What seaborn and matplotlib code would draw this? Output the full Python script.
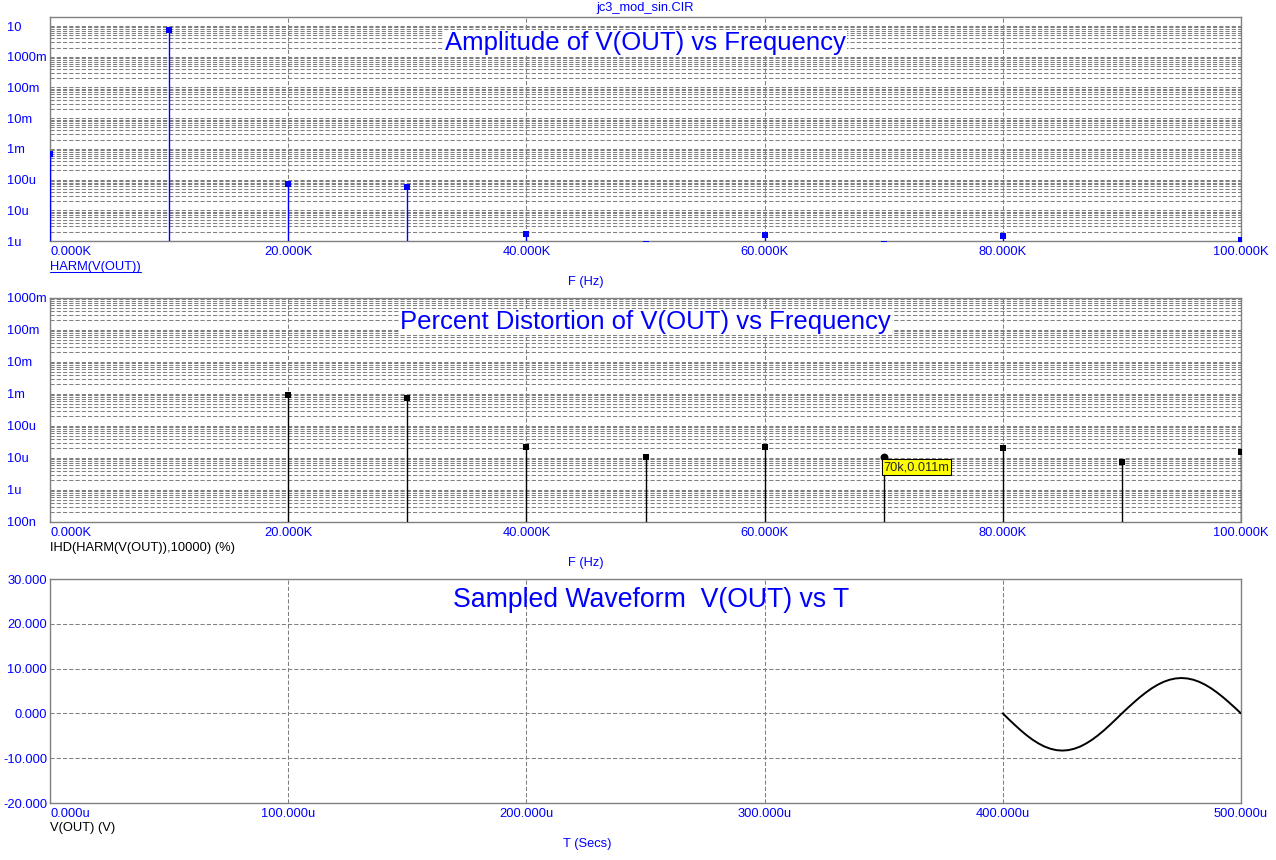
import numpy as np
import matplotlib
matplotlib.use("Agg")
import matplotlib.pyplot as plt
from matplotlib.lines import Line2D
from matplotlib.ticker import LogLocator, NullFormatter
import seaborn as sns

# --- data ---
harm_freq = [0, 10000, 20000, 30000, 40000, 50000, 60000, 70000, 80000, 100000]
harm_amp = [0.69e-3, 7.6, 74e-6, 56e-6, 1.7e-6, 0.8e-6, 1.6e-6, 0.8e-6, 1.5e-6, 1.1e-6]

ihd_freq = [20000, 30000, 40000, 50000, 60000, 70000, 80000, 90000, 100000]
ihd_pct = [0.95e-3, 0.75e-3, 22e-6, 11e-6, 22e-6, 11e-6, 20e-6, 7.7e-6, 15e-6]
cursor_freq = 70000
cursor_val = 11e-6
cursor_text = "70k,0.011m"

# sampled waveform, time in microseconds
wave_t = [400, 402.5, 405, 407.5, 410, 412.5, 415, 417.5, 420, 422.5, 425,
          427.5, 430, 432.5, 435, 437.5, 440, 442.5, 445, 447.5, 450,
          452.5, 455, 457.5, 460, 462.5, 465, 467.5, 470, 472.5, 475,
          477.5, 480, 482.5, 485, 487.5, 490, 492.5, 495, 497.5, 500]
wave_v = [0, -1.30, -2.56, -3.77, -4.88, -5.87, -6.71, -7.40, -7.89, -8.20, -8.30,
          -8.20, -7.89, -7.40, -6.71, -5.87, -4.88, -3.77, -2.56, -1.30, 0,
          1.24, 2.44, 3.59, 4.64, 5.59, 6.39, 7.04, 7.51, 7.80, 7.90,
          7.80, 7.51, 7.04, 6.39, 5.59, 4.64, 3.59, 2.44, 1.24, 0]

freq_ticks = [0, 20000, 40000, 60000, 80000, 100000]
freq_labels = ["0.000K", "20.000K", "40.000K", "60.000K", "80.000K", "100.000K"]
amp_ticks = [1e-6, 1e-5, 1e-4, 1e-3, 1e-2, 1e-1, 1, 10]
amp_labels = ["1u", "10u", "100u", "1m", "10m", "100m", "1000m", "10"]
pct_ticks = [1e-7, 1e-6, 1e-5, 1e-4, 1e-3, 1e-2, 1e-1, 1]
pct_labels = ["100n", "1u", "10u", "100u", "1m", "10m", "100m", "1000m"]
time_ticks = [0, 100, 200, 300, 400, 500]
time_labels = ["0.000u", "100.000u", "200.000u", "300.000u", "400.000u", "500.000u"]
volt_ticks = [-20, -10, 0, 10, 20, 30]
volt_labels = ["-20.000", "-10.000", "0.000", "10.000", "20.000", "30.000"]

BLUE = "#0000FF"
GRID = "#808080"
DASH = (0, (4, 2))

sns.set_style("white")
plt.rcParams['font.family'] = ['Liberation Sans', 'DejaVu Sans']

W, H = 1276, 860
fig = plt.figure(figsize=(W / 100, H / 100), dpi=100)


def px_axes(left, top, right, bottom):
    return fig.add_axes([left / W, 1 - bottom / H, (right - left) / W, (bottom - top) / H])


def style_axes(ax):
    for s in ax.spines.values():
        s.set_color(GRID)
        s.set_linewidth(1.0)
    ax.tick_params(which='both', length=0, colors=BLUE, labelsize=9.3)
    ax.grid(True, which='major', color=GRID, linestyle=DASH, linewidth=0.75)


def log_y(ax, ticks, labels, lim):
    ax.set_yscale('log')
    ax.set_ylim(*lim)
    ax.set_yticks(ticks, labels, ha='left')
    ax.yaxis.set_minor_locator(LogLocator(base=10, subs=np.arange(2, 10), numticks=60))
    ax.yaxis.set_minor_formatter(NullFormatter())
    ax.grid(True, which='minor', axis='y', color=GRID, linestyle=DASH, linewidth=0.75)
    ax.tick_params(axis='y', pad=31)


def x_ticks(ax, ticks, labels, lim):
    ax.set_xlim(*lim)
    ax.set_xticks(ticks, labels)
    ax.get_xticklabels()[0].set_ha('left')
    ax.tick_params(axis='x', pad=3.5)


# --- amplitude plot ---
ax1 = px_axes(50, 17, 1241, 241)
style_axes(ax1)
log_y(ax1, amp_ticks, amp_labels, (1e-6, 19.7))
x_ticks(ax1, freq_ticks, freq_labels, (0, 100000))
ax1.vlines(harm_freq, 1e-6, harm_amp, color=BLUE, linewidth=1.0, zorder=3)
sns.scatterplot(x=harm_freq, y=harm_amp, ax=ax1, marker='s', color=BLUE,
                s=25, linewidth=0, zorder=4)
ax1.text(0.5, 0.884, "Amplitude of V(OUT) vs Frequency", transform=ax1.transAxes,
         ha='center', va='center', fontsize=18.5, color=BLUE, zorder=5,
         bbox=dict(facecolor='white', edgecolor='none', pad=0.5))

# --- distortion plot ---
ax2 = px_axes(50, 298, 1241, 522)
style_axes(ax2)
log_y(ax2, pct_ticks, pct_labels, (1e-7, 1))
x_ticks(ax2, freq_ticks, freq_labels, (0, 100000))
ax2.vlines(ihd_freq, 1e-7, ihd_pct, color='black', linewidth=1.0, zorder=3)
sq = [i for i, f in enumerate(ihd_freq) if f != cursor_freq]
sns.scatterplot(x=[ihd_freq[i] for i in sq], y=[ihd_pct[i] for i in sq], ax=ax2,
                marker='s', color='black', s=25, linewidth=0, zorder=4)
sns.scatterplot(x=[cursor_freq], y=[cursor_val], ax=ax2, marker='o', color='black',
                s=32, linewidth=0, zorder=4)
ax2.annotate(cursor_text, xy=(cursor_freq, cursor_val), xytext=(0, -3.2),
             textcoords='offset points', ha='left', va='top', fontsize=9.2, zorder=6,
             bbox=dict(boxstyle='square,pad=0.15', facecolor='#FFFF00',
                       edgecolor='black', linewidth=0.75))
ax2.text(0.5, 0.893, "Percent Distortion of V(OUT) vs Frequency", transform=ax2.transAxes,
         ha='center', va='center', fontsize=18.5, color=BLUE, zorder=5,
         bbox=dict(facecolor='white', edgecolor='none', pad=0.5))

# --- sampled waveform ---
ax3 = px_axes(50, 579, 1241, 803)
style_axes(ax3)
ax3.set_ylim(-20, 30)
ax3.set_yticks(volt_ticks, volt_labels)
ax3.tick_params(axis='y', pad=2)
x_ticks(ax3, time_ticks, time_labels, (0, 500))
sns.lineplot(x=wave_t, y=wave_v, ax=ax3, color='black', linewidth=1.4, zorder=4)
ax3.text(0.505, 0.906, "Sampled Waveform  V(OUT) vs T", transform=ax3.transAxes,
         ha='center', va='center', fontsize=19.2, color=BLUE, zorder=5)

for ax in (ax1, ax2, ax3):
    ax.set_xlabel("")
    ax.set_ylabel("")


# --- captions under each plot ---
def ftext(x, y, s, **kw):
    return fig.text(x / W, 1 - y / H, s, va='center', fontsize=9.3, **kw)


ftext(645, 8, "jc3_mod_sin.CIR", ha='center', color=BLUE)
harm_lbl = ftext(50, 267, "HARM(V(OUT))", ha='left', color=BLUE)
ftext(586, 282, "F (Hz)", ha='center', color=BLUE)
ftext(50, 548, "IHD(HARM(V(OUT)),10000) (%)", ha='left', color='black')
ftext(586, 563, "F (Hz)", ha='center', color=BLUE)
ftext(50, 828, "V(OUT) (V)", ha='left', color='black')
ftext(587, 844, "T (Secs)", ha='center', color=BLUE)

# underline the trace name like the original
renderer = fig.canvas.get_renderer()
bb = harm_lbl.get_window_extent(renderer)
uy = (bb.y0 + 1) / H
fig.add_artist(Line2D([bb.x0 / W, bb.x1 / W], [uy, uy], color=BLUE, linewidth=0.75))

fig.savefig("out.png", dpi=100)
